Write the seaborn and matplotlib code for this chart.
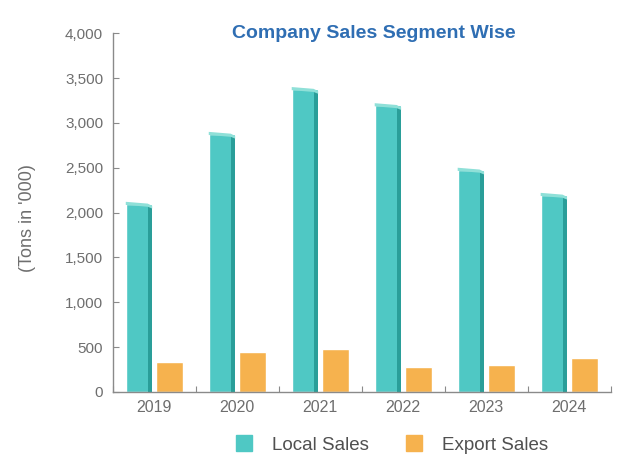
import matplotlib
matplotlib.use("Agg")
import matplotlib.pyplot as plt
from matplotlib.patches import Rectangle, Polygon
from matplotlib.lines import Line2D
import seaborn as sns
import pandas as pd

# Sales volume per year, in thousands of tons
years = ["2019", "2020", "2021", "2022", "2023", "2024"]
local_sales = [2100, 2880, 3380, 3200, 2480, 2200]
export_sales = [330, 440, 480, 280, 300, 380]
segments = ["Local Sales", "Export Sales"]
y_ticks = [0, 500, 1000, 1500, 2000, 2500, 3000, 3500, 4000]

teal = "#4fc8c4"
teal_dark = "#2a9e99"
teal_light = "#8fe0d8"
orange = "#f6b24e"
grey = "#6e6e6e"

df = pd.DataFrame({
    "Year": years * 2,
    "Tons": local_sales + export_sales,
    "Segment": [segments[0]] * len(years) + [segments[1]] * len(years),
})

sns.set_theme(style="white")
plt.rcParams["font.family"] = ["Liberation Sans", "DejaVu Sans"]

fig = plt.figure(figsize=(6.2, 4.75), dpi=100)
ax = fig.add_axes([0.182, 0.175, 0.803, 0.755])

sns.barplot(data=df, x="Year", y="Tons", hue="Segment", hue_order=segments,
            palette=[teal, orange], width=0.74, gap=0.14, saturation=1,
            legend=False, ax=ax)

# give the local bars a shaded side and a lit, slanted cap
for bar in ax.containers[0]:
    x0, y0 = bar.get_x(), bar.get_y()
    w, h = bar.get_width(), bar.get_height()
    top = y0 + h
    side = w * 0.17
    z = bar.get_zorder()
    ax.add_patch(Rectangle((x0 + w - side, y0), side, h - 25, color=teal_dark,
                           lw=0, zorder=z + 0.1))
    ax.add_patch(Polygon([(x0, top + 20), (x0 + w - side, top),
                          (x0 + w, top - 25), (x0 + w, top - 55),
                          (x0 + w - side, top - 35), (x0, top - 15)],
                         closed=True, color=teal_light, lw=0, zorder=z + 0.2))

ax.set_ylim(0, 4000)
ax.set_xlim(-0.5, len(years) - 0.5)
ax.set_yticks(y_ticks)
ax.set_yticklabels([f"{v:,}" for v in y_ticks])
ax.set_xlabel("")
ax.set_ylabel("")

for side in ["top", "right"]:
    ax.spines[side].set_visible(False)
for side in ["left", "bottom"]:
    ax.spines[side].set_color("#8a8a8a")
    ax.spines[side].set_linewidth(1.0)

ax.tick_params(axis="y", direction="in", length=4, width=0.8, color="#8a8a8a",
               labelsize=11, labelcolor=grey, pad=7, left=True)
ax.tick_params(axis="x", which="major", length=0, labelsize=11.5,
               labelcolor=grey, pad=6)
ax.set_xticks([i - 0.5 for i in range(len(years) + 1)], minor=True)
ax.tick_params(axis="x", which="minor", direction="in", length=4, width=0.8,
               color="#8a8a8a", bottom=True)

fig.text(374 / 620, 1 - 33 / 475, "Company Sales Segment Wise",
         ha="center", va="center", fontsize=14, fontweight="bold",
         color="#2f6eb3")
fig.text(28 / 620, 1 - 218 / 475, "(Tons in '000)", rotation=90,
         ha="center", va="center", fontsize=13, color=grey)

handles = [Line2D([], [], marker="s", ls="", markersize=11,
                  markerfacecolor=c, markeredgecolor=c) for c in [teal, orange]]
fig.legend(handles, segments, loc="center", bbox_to_anchor=(387 / 620, 1 - 445 / 475),
           ncol=2, frameon=False, fontsize=13.5, labelcolor="#505050",
           handletextpad=0.5, columnspacing=1.4)

fig.savefig("out.png", dpi=100)
